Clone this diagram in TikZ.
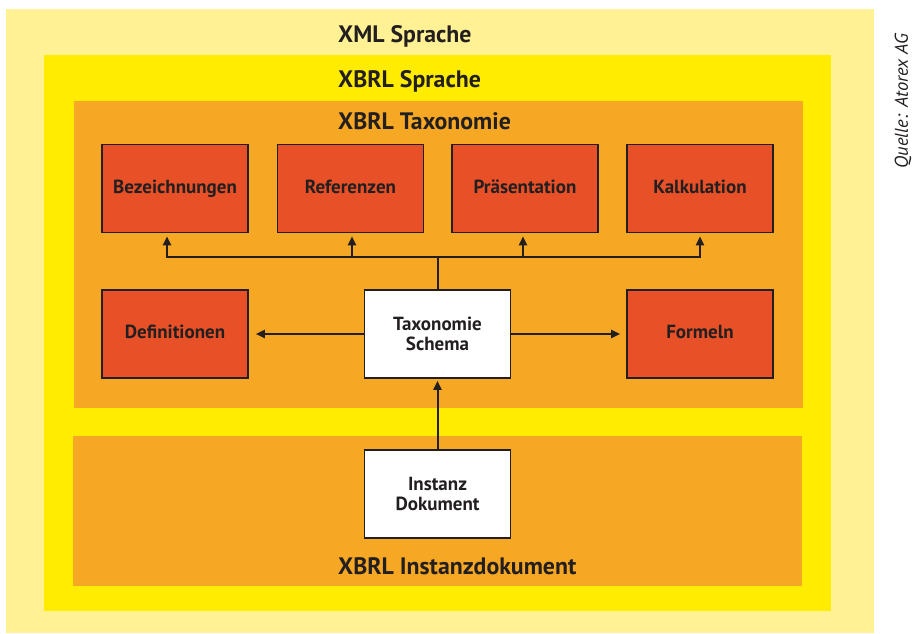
\documentclass[tikz,border=0pt]{standalone}
\usepackage{fontspec}
\setmainfont{PT Sans}
\newfontfamily\boldcond{PT Sans Bold}
\newfontfamily\italcond{PT Sans Italic}
\usetikzlibrary{arrows.meta}
\definecolor{paleyellow}{HTML}{FFF194}
\definecolor{brightyellow}{HTML}{FFEC00}
\definecolor{layerorange}{HTML}{F6A723}
\definecolor{boxred}{HTML}{E85127}
\definecolor{ink}{HTML}{231F20}
\tikzset{
  layertitle/.style={anchor=base west, inner sep=0pt, font=\boldcond\fontsize{23.8}{26}\selectfont, text=ink},
  boxbase/.style={draw=ink, line width=1.6pt, minimum width=146pt, minimum height=88pt, inner sep=0pt, align=center, font=\boldcond\fontsize{19}{20}\selectfont, text=ink},
  redbox/.style={boxbase, fill=boxred, text height=13.5pt, text depth=4pt},
  whitebox/.style={boxbase, fill=white},
  conn/.style={draw=ink, line width=2pt},
  arr/.style={conn, -{Triangle[width=8pt,length=9pt]}},
}
\begin{document}
\begin{tikzpicture}[x=1pt,y=-1pt]
\useasboundingbox (0,0) rectangle (914,633);
% layers
\fill[paleyellow] (6,9) rectangle (874,633);
\fill[brightyellow] (44,55) rectangle (831,611);
\fill[layerorange] (74,101) rectangle (803,408);
\fill[layerorange] (73,436) rectangle (802,586);
% titles
\node[layertitle] (txml) at (338,42) {XML Sprache};
\node[layertitle] (txbrl) at (338,87) {XBRL Sprache};
\node[layertitle] (ttax) at (338,129) {XBRL Taxonomie};
\node[layertitle] (tinst) at (338,574) {XBRL Instanzdokument};
% boxes
\node[redbox] (bez) at (175,188.5) {Bezeichnungen};
\node[redbox] (ref) at (350.5,188.5) {Referenzen};
\node[redbox] (pra) at (525,188.5) {Präsentation};
\node[redbox] (kal) at (700,188.5) {Kalkulation};
\node[redbox] (def) at (175,334) {Definitionen};
\node[whitebox] (tax) at (437.5,334) {Taxonomie\\Schema};
\node[redbox] (for) at (700,334) {Formeln};
\node[whitebox] (ins) at (437.5,494) {Instanz\\Dokument};
% connectors
\coordinate (bus) at (437.5,257);
\draw[conn] (tax.north) -- (bus);
\draw[arr, shorten >=3pt] (bus) -| ([xshift=-8pt]bez.south);
\draw[arr, shorten >=3pt] (bus) -| ([xshift=1.5pt]ref.south);
\draw[arr, shorten >=3pt] (bus) -| ([xshift=-2pt]pra.south);
\draw[arr, shorten >=3pt] (bus) -| (kal.south);
\draw[arr, shorten >=7pt] (tax.west) -- (def.east);
\draw[arr, shorten >=6pt] (tax.east) -- (for.west);
\draw[arr, shorten >=2pt] (ins.north) -- (tax.south);
% source
\node[rotate=90, inner sep=0pt, font=\italcond\fontsize{18.5}{20}\selectfont, text=ink] (src) at (903,101) {Quelle: Atorex AG};
\end{tikzpicture}
\end{document}
